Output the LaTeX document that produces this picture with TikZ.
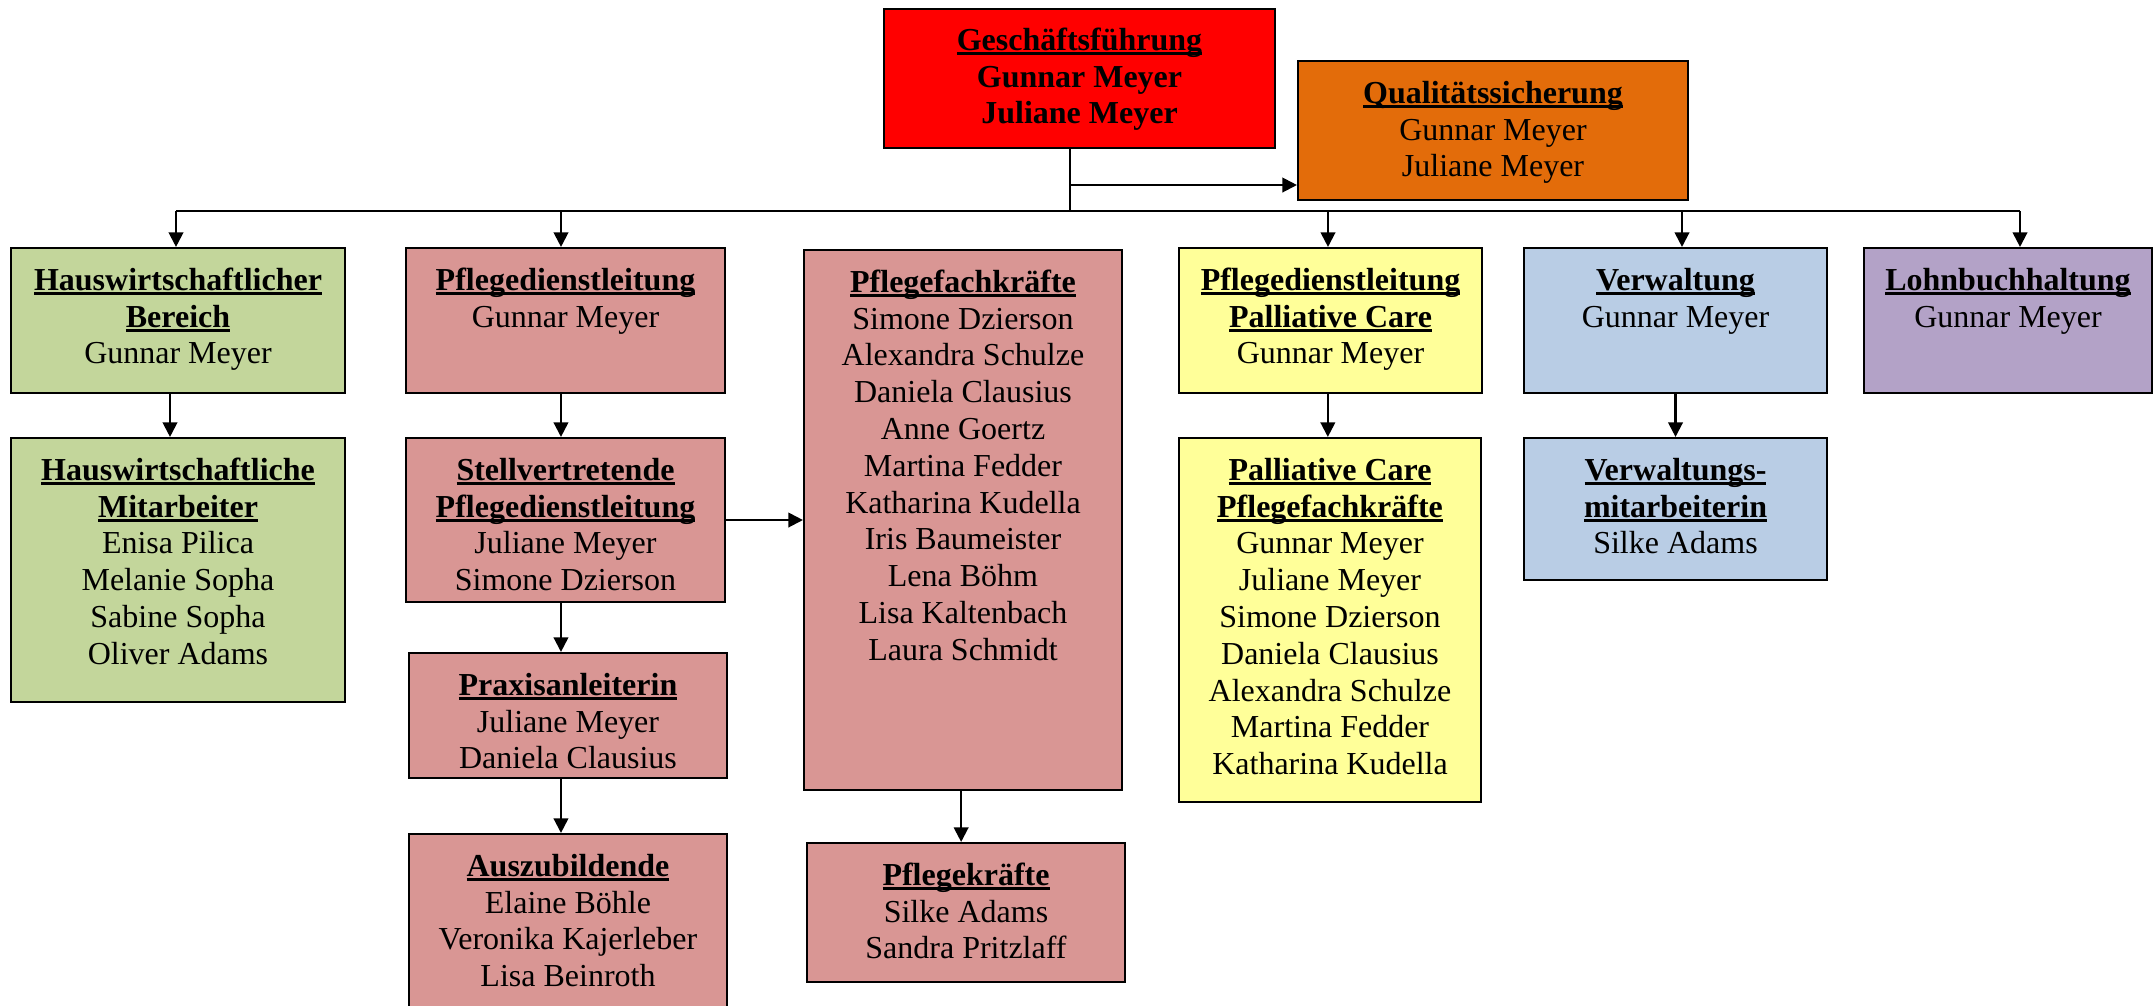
\documentclass[tikz,border=0pt]{standalone}
\usepackage{fontspec}
\setmainfont{Liberation Serif}
\usetikzlibrary{arrows.meta,fit}
\definecolor{cred}{HTML}{FF0000}
\definecolor{corange}{HTML}{E36C0A}
\definecolor{cgreen}{HTML}{C3D69B}
\definecolor{cpink}{HTML}{D99694}
\definecolor{cyellow}{HTML}{FFFF99}
\definecolor{cblue}{HTML}{B9CDE5}
\definecolor{cpurple}{HTML}{B3A2C7}
\newcommand\ulx[1]{\setbox0\hbox{\textbf{#1}}\rlap{\rule[-1.7pt]{\wd0}{0.95pt}}\box0}
\tikzset{
  orgbox/.style={draw=black, line width=0.8pt, inner sep=0pt},
  txt/.style={anchor=north, align=center, inner sep=0pt, font=\fontsize{12}{13.8}\selectfont},
  arr/.style={line width=0.8pt, -{Triangle[length=5.5pt,width=5.5pt]}},
  ln/.style={line width=0.8pt}
}
\begin{document}
\begin{tikzpicture}[x=0.375pt, y=-0.375pt]
\useasboundingbox (0,0) rectangle (2154,1005);
\clip (0,0) rectangle (2154,1005);
% boxes
\node[orgbox, fill=cred, fit={(884,9)(1275,148)}] (gf) {};
\node[orgbox, fill=corange, fit={(1298,61)(1688,200)}] (qs) {};
\node[orgbox, fill=cgreen, fit={(11,248)(345,393)}] (hb) {};
\node[orgbox, fill=cgreen, fit={(11,438)(345,702)}] (hm) {};
\node[orgbox, fill=cpink, fit={(406,248)(725,393)}] (pdl) {};
\node[orgbox, fill=cpink, fit={(406,438)(725,602)}] (spdl) {};
\node[orgbox, fill=cpink, fit={(409,653)(727,778)}] (prax) {};
\node[orgbox, fill=cpink, fit={(409,834)(727,1040)}] (azubi) {};
\node[orgbox, fill=cpink, fit={(804,250)(1122,790)}] (pfk) {};
\node[orgbox, fill=cpink, fit={(807,843)(1125,982)}] (pk) {};
\node[orgbox, fill=cyellow, fit={(1179,248)(1482,393)}] (pdlpc) {};
\node[orgbox, fill=cyellow, fit={(1179,438)(1481,802)}] (pcpfk) {};
\node[orgbox, fill=cblue, fit={(1524,248)(1827,393)}] (verw) {};
\node[orgbox, fill=cblue, fit={(1524,438)(1827,580)}] (vm) {};
\node[orgbox, fill=cpurple, fit={(1864,248)(2152,393)}] (lb) {};
% texts
\node[txt] (tgf) at ([yshift=-6.0pt]gf.north) {\strut\ulx{Geschäftsführung}\\\textbf{Gunnar Meyer}\\\textbf{Juliane Meyer}};
\node[txt] (tqs) at ([yshift=-6.4pt]qs.north) {\strut\ulx{Qualitätssicherung}\\Gunnar Meyer\\Juliane Meyer};
\node[txt] (thb) at ([yshift=-6.4pt]hb.north) {\strut\ulx{Hauswirtschaftlicher}\\\ulx{Bereich}\\Gunnar Meyer};
\node[txt] (thm) at ([yshift=-6.4pt]hm.north) {\strut\ulx{Hauswirtschaftliche}\\\ulx{Mitarbeiter}\\Enisa Pilica\\Melanie Sopha\\Sabine Sopha\\Oliver Adams};
\node[txt] (tpdl) at ([yshift=-6.4pt]pdl.north) {\strut\ulx{Pflegedienstleitung}\\Gunnar Meyer};
\node[txt] (tspdl) at ([yshift=-6.4pt]spdl.north) {\strut\ulx{Stellvertretende}\\\ulx{Pflegedienstleitung}\\Juliane Meyer\\Simone Dzierson};
\node[txt] (tprax) at ([yshift=-6.4pt]prax.north) {\strut\ulx{Praxisanleiterin}\\Juliane Meyer\\Daniela Clausius};
\node[txt] (tazubi) at ([yshift=-6.4pt]azubi.north) {\strut\ulx{Auszubildende}\\Elaine Böhle\\Veronika Kajerleber\\Lisa Beinroth};
\node[txt] (tpfk) at ([yshift=-6.4pt]pfk.north) {\strut\ulx{Pflegefachkräfte}\\Simone Dzierson\\Alexandra Schulze\\Daniela Clausius\\Anne Goertz\\Martina Fedder\\Katharina Kudella\\Iris Baumeister\\Lena Böhm\\Lisa Kaltenbach\\Laura Schmidt};
\node[txt] (tpk) at ([yshift=-6.4pt]pk.north) {\strut\ulx{Pflegekräfte}\\Silke Adams\\Sandra Pritzlaff};
\node[txt] (tpdlpc) at ([yshift=-6.4pt]pdlpc.north) {\strut\ulx{Pflegedienstleitung}\\\ulx{Palliative Care}\\Gunnar Meyer};
\node[txt] (tpcpfk) at ([yshift=-6.4pt]pcpfk.north) {\strut\ulx{Palliative Care}\\\ulx{Pflegefachkräfte}\\Gunnar Meyer\\Juliane Meyer\\Simone Dzierson\\Daniela Clausius\\Alexandra Schulze\\Martina Fedder\\Katharina Kudella};
\node[txt] (tverw) at ([yshift=-6.4pt]verw.north) {\strut\ulx{Verwaltung}\\Gunnar Meyer};
\node[txt] (tvm) at ([yshift=-6.4pt]vm.north) {\strut\ulx{Verwaltungs-}\\\ulx{mitarbeiterin}\\Silke Adams};
\node[txt] (tlb) at ([yshift=-6.4pt]lb.north) {\strut\ulx{Lohnbuchhaltung}\\Gunnar Meyer};
% bus
\coordinate (d1) at (176,211);
\coordinate (d2) at (561,211);
\coordinate (d3) at (1328,211);
\coordinate (d4) at (1682,211);
\coordinate (d5) at (2020,211);
\coordinate (gfq) at (1070,185);
\draw[ln] ([xshift=-3.6pt]gf.south) -- ([xshift=-3.6pt]gf.south |- d1);
\draw[ln] (d1) -- (d5);
\draw[arr] (gfq) -- (gfq -| qs.west);
\draw[arr] (d1) -- (d1 |- hb.north);
\draw[arr] (d2) -- (d2 |- pdl.north);
\draw[arr] (d3) -- (d3 |- pdlpc.north);
\draw[arr] (d4) -- (d4 |- verw.north);
\draw[arr] (d5) -- (d5 |- lb.north);
% vertical links
\draw[arr] ([xshift=-3pt]hb.south) -- ([xshift=-3pt]hb.south |- hm.north);
\draw[arr] ([xshift=-1.7pt]pdl.south) -- ([xshift=-1.7pt]pdl.south |- spdl.north);
\draw[arr] ([xshift=-1.7pt]spdl.south) -- ([xshift=-1.7pt]spdl.south |- prax.north);
\draw[arr] ([xshift=-1.7pt]spdl.south |- prax.south) -- ([xshift=-1.7pt]spdl.south |- azubi.north);
\draw[arr] ([xshift=-0.7pt]pfk.south) -- ([xshift=-0.7pt]pfk.south |- pk.north);
\draw[arr] ([xshift=-1pt]pdlpc.south) -- ([xshift=-1pt]pdlpc.south |- pcpfk.north);
\draw[arr] (verw.south) -- (verw.south |- vm.north);
\draw[arr] (spdl.east) -- (spdl.east -| pfk.west);
\end{tikzpicture}
\end{document}
